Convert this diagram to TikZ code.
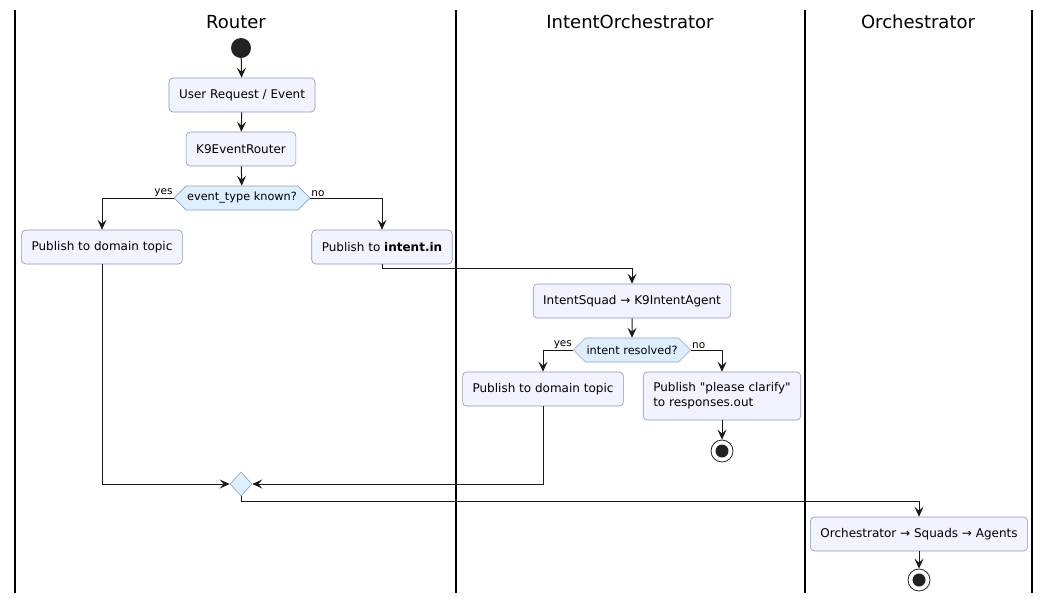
\documentclass[tikz,border=0pt]{standalone}
\usepackage{fontspec}
\setmainfont{DejaVu Sans}[Ligatures=TeXOff]
\usetikzlibrary{arrows.meta,shapes.geometric,shapes.symbols}
\definecolor{actfill}{HTML}{F1F4FE}
\definecolor{actline}{HTML}{8A94C4}
\definecolor{decfill}{HTML}{DDEEFE}
\definecolor{decline}{HTML}{8AA2C4}
\definecolor{dotfill}{HTML}{222222}
\begin{document}
\begin{tikzpicture}[x=1pt,y=-1pt,
  action/.style={draw=actline, fill=actfill, rounded corners=4pt, line width=0.6pt,
    font=\fontsize{12}{15}\selectfont, minimum height=34pt, inner xsep=10pt},
  decision/.style={draw=decline, fill=decfill, line width=0.6pt, signal, signal to=east and west,
    signal pointer angle=90, font=\fontsize{11.3}{13}\selectfont, minimum height=24pt, inner sep=1pt},
  merge/.style={draw=decline, fill=decfill, line width=0.6pt, diamond, minimum width=22pt,
    minimum height=24pt, inner sep=0pt},
  startdot/.style={circle, fill=dotfill, minimum size=20pt, inner sep=0pt},
  stopdot/.style={circle, draw=dotfill, fill=white, line width=0.8pt, minimum size=22pt, inner sep=0pt,
    path picture={\fill[dotfill] (path picture bounding box.center) circle (6.5pt);}},
  flow/.style={-{Stealth[length=10pt,width=9pt,inset=4pt]}, line width=1pt, draw=black!90},
  lane/.style={line width=1.4pt},
  lanetitle/.style={font=\fontsize{18}{21}\selectfont},
  branch/.style={font=\fontsize{10.5}{12}\selectfont, inner sep=1pt}
]
\useasboundingbox (0,0) rectangle (1051,603);

% swimlanes
\draw[lane] (15,10) -- (15,593);
\draw[lane] (456,10) -- (456,593);
\draw[lane] (805,10) -- (805,593);
\draw[lane] (1032,10) -- (1032,593);
\node[lanetitle] (tRouter) at (236,22) {Router};
\node[lanetitle] (tIntent) at (630,22) {IntentOrchestrator};
\node[lanetitle] (tOrch) at (918,22) {Orchestrator};

% Router lane
\node[startdot] (start) at (241,48) {};
\node[action] (request) at (242,95) {User Request / Event};
\node[action] (router) at (241,149) {K9EventRouter};
\node[decision, minimum width=130pt] (known) at (242,198) {event\_type known?};
\node[action] (domainA) at (102,247) {Publish to domain topic};
\node[action] (intentin) at (382,247) {Publish to \textbf{intent.in}};
\node[merge] (join) at (241,484) {};
\node[branch, anchor=south east] (yesA) at (known.west) {yes};
\node[branch, anchor=south west] (noA) at (known.east) {no};

% IntentOrchestrator lane
\node[action] (squad) at (632,301) {IntentSquad → K9IntentAgent};
\node[decision, minimum width=112pt] (resolved) at (632,350) {intent resolved?};
\node[action] (domainB) at (543,389) {Publish to domain topic};
\node[action, align=left, minimum height=48pt] (clarify) at (722,396) {Publish "please clarify"\\to responses.out};
\node[stopdot] (stopB) at (722,451) {};
\node[branch, anchor=south east] (yesB) at (resolved.west) {yes};
\node[branch, anchor=south west] (noB) at (resolved.east) {no};

% Orchestrator lane
\node[action] (agents) at (919,534) {Orchestrator → Squads → Agents};
\node[stopdot] (stopC) at (919,580) {};

% flows
\draw[flow] (start) -- (request);
\draw[flow] (request) -- (router);
\draw[flow] (router) -- (known);
\draw[flow] (known.west) -| (domainA.north);
\draw[flow] (known.east) -| (intentin.north);
\draw[flow] (intentin.south) -- ++(0,4) -| (squad.north);
\draw[flow] (squad) -- (resolved);
\draw[flow] (resolved.west) -| (domainB.north);
\draw[flow] (resolved.east) -| (clarify.north);
\draw[flow] (clarify) -- (stopB);
\draw[flow] (domainA.south) |- (join.west);
\draw[flow] (domainB.south) |- (join.east);
\draw[flow] (join.south) -- ++(0,5) -| (agents.north);
\draw[flow] (agents) -- (stopC);
\end{tikzpicture}
\end{document}
